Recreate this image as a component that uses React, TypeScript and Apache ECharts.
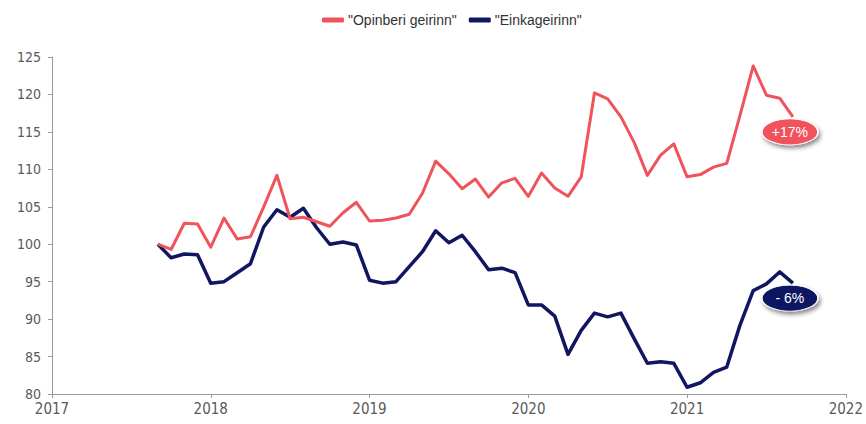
import React, { useEffect, useRef } from "react";
import * as echarts from "echarts";

// Monthly index values, Sep 2017 .. Sep 2021 (Sep 2017 = 100)
const startYear = 2017;
const startMonth = 8; // September (0-based)
const opinberi = [
  100, 99.3, 102.8, 102.7, 99.6, 103.5, 100.7, 101.0, 105.0, 109.2,
  103.4, 103.6, 103.0, 102.4, 104.2, 105.6, 103.1, 103.2, 103.5, 104.0,
  106.8, 111.1, 109.4, 107.4, 108.7, 106.3, 108.2, 108.8, 106.4, 109.5,
  107.5, 106.4, 109.0, 120.2, 119.4, 117.0, 113.6, 109.2, 111.9, 113.4,
  109.0, 109.3, 110.3, 110.8, 117.2, 123.8, 119.9, 119.5, 117.0,
];
const einka = [
  100, 98.2, 98.7, 98.6, 94.8, 95.0, 96.2, 97.4, 102.3, 104.6,
  103.6, 104.8, 102.2, 100.0, 100.3, 99.9, 95.2, 94.8, 95.0, 97.0,
  99.0, 101.8, 100.2, 101.2, 99.0, 96.6, 96.8, 96.2, 91.9, 91.9,
  90.4, 85.3, 88.5, 90.8, 90.3, 90.8, 87.4, 84.1, 84.3, 84.1,
  80.9, 81.5, 82.9, 83.6, 89.2, 93.8, 94.7, 96.3, 94.8,
];
const seriesNames = ['"Opinberi geirinn"', '"Einkageirinn"'];
const badgeLabels = ["+17%", "- 6%"];
const colors = ["#F0535C", "#101660"];

const ELLIPSE = "path://M0,10 A20,10 0 1,1 40,10 A20,10 0 1,1 0,10 Z";
const NARROW = "'Liberation Sans Narrow', 'Arial Narrow', 'DejaVu Sans Condensed', sans-serif";

export default function App() {
  const ref = useRef<HTMLDivElement>(null);
  useEffect(() => {
    if (!ref.current) return;
    const chart = echarts.init(ref.current, undefined, { renderer: "svg" });
    const toX = (i: number) => startYear + (startMonth + i) / 12;
    const mk = (vals: number[]) => vals.map((v, i) => [toX(i), v]);
    const series = [opinberi, einka].map((vals, k) => {
      const last = vals.length - 1;
      return {
        name: seriesNames[k],
        type: "line",
        data: mk(vals),
        showSymbol: false,
        symbol: "none",
        lineStyle: { color: colors[k], width: k === 0 ? 3 : 3.5, join: "round" },
        itemStyle: { color: colors[k] },
        z: k === 0 ? 3 : 2,
        markPoint: {
          silent: true,
          data: [
            {
              coord: [toX(last), vals[last]],
              symbol: ELLIPSE,
              symbolSize: [56, 26],
              symbolOffset: [-3, 15],
              itemStyle: {
                color: colors[k],
                borderColor: "#ffffff",
                borderWidth: 1,
                shadowBlur: 4,
                shadowColor: "rgba(0,0,0,0.45)",
                shadowOffsetX: 2,
                shadowOffsetY: 3,
              },
              label: {
                show: true,
                position: "inside",
                formatter: badgeLabels[k],
                color: "#ffffff",
                fontSize: 14,
                fontFamily: "Liberation Sans, Arial, sans-serif",
              },
            },
          ],
        },
      };
    });
    chart.setOption({
      animation: false,
      backgroundColor: "#ffffff",
      textStyle: { fontFamily: "Liberation Sans, Arial, sans-serif" },
      legend: {
        top: 8,
        left: 317,
        icon: "roundRect",
        itemWidth: 22,
        itemHeight: 5,
        itemGap: 12,
        itemStyle: { borderRadius: 3 },
        textStyle: { color: "#333333", fontSize: 14, padding: [0, 0, 0, -1] },
        data: seriesNames,
      },
      grid: { left: 52, right: 19, top: 57, bottom: 30, containLabel: false },
      xAxis: {
        type: "value",
        min: 2017,
        max: 2022,
        interval: 1,
        splitLine: { show: false },
        axisLine: { show: true, lineStyle: { color: "#9a9a9a", width: 1 } },
        axisTick: { show: true, length: 4, lineStyle: { color: "#9a9a9a" } },
        axisLabel: {
          color: "#5a5a5a",
          fontSize: 15,
          fontFamily: NARROW,
          margin: 7,
          formatter: (v: number) => String(v),
        },
      },
      yAxis: {
        type: "value",
        min: 80,
        max: 125,
        interval: 5,
        splitLine: { show: false },
        axisLine: { show: true, lineStyle: { color: "#9a9a9a", width: 1 } },
        axisTick: { show: true, length: 4, lineStyle: { color: "#9a9a9a" } },
        axisLabel: { color: "#5a5a5a", fontSize: 14, fontFamily: NARROW, margin: 11 },
      },
      series,
    });
    return () => chart.dispose();
  }, []);
  return (
    <div
      ref={ref}
      style={{ position: "fixed", left: 0, top: 0, width: 866, height: 424 }}
    />
  );
}
